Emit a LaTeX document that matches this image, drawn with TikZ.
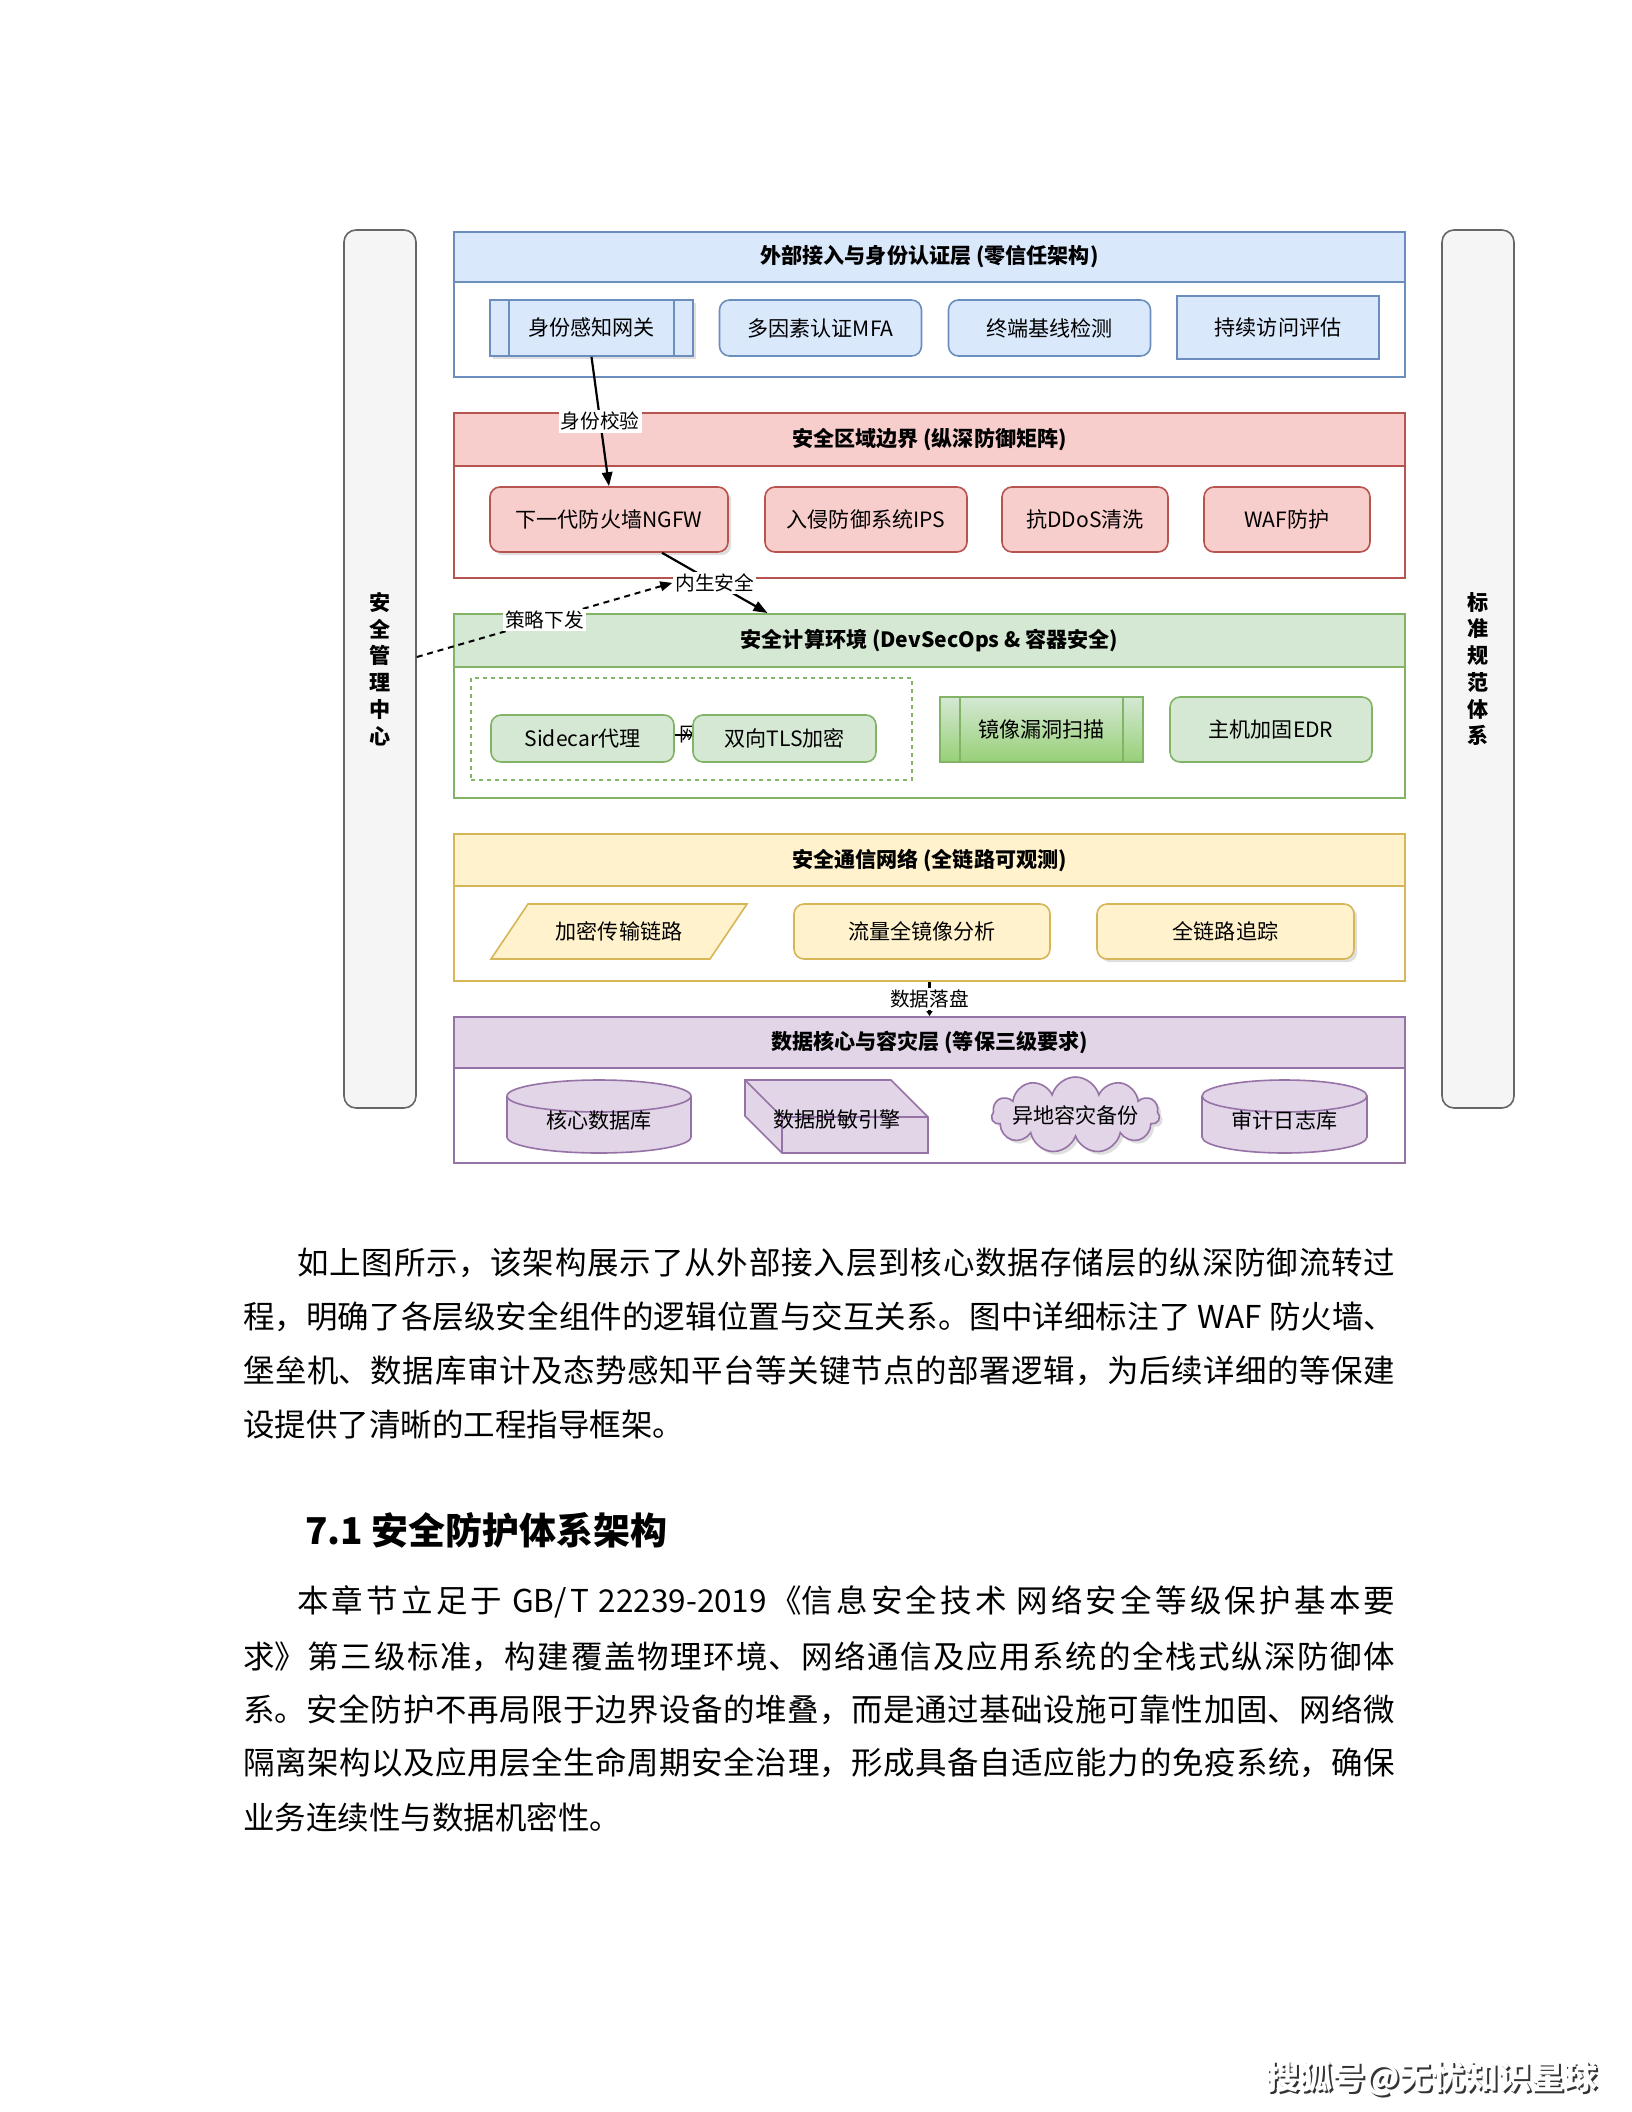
\documentclass[tikz,border=0pt]{standalone}
\usepackage{fontspec}
\setmainfont{Noto Sans CJK SC}
\usetikzlibrary{arrows.meta,shapes.symbols,shadows,positioning}
\XeTeXlinebreaklocale "zh"
\XeTeXlinebreakskip=0pt plus 3pt

\newdimen\pix \pix=0.25mm

\definecolor{bluefill}{HTML}{DAE8FC}  \definecolor{blueline}{HTML}{6C8EBF}
\definecolor{redfill}{HTML}{F8CECC}   \definecolor{redline}{HTML}{B85450}
\definecolor{greenfill}{HTML}{D5E8D4} \definecolor{greenline}{HTML}{82B366}
\definecolor{greendark}{HTML}{97D077}
\definecolor{yellowfill}{HTML}{FFF2CC} \definecolor{yellowline}{HTML}{D6B656}
\definecolor{purplefill}{HTML}{E1D5E7} \definecolor{purpleline}{HTML}{9673A6}
\definecolor{barfill}{HTML}{F5F5F5}   \definecolor{barline}{HTML}{666666}

\tikzset{
  layerbody/.style={draw, line width=0.5mm, fill=white, minimum width=951*\pix, inner sep=0pt},
  layerhead/.style={draw, line width=0.5mm, minimum width=951*\pix, inner sep=0pt,
    font=\fontsize{15pt}{18pt}\selectfont\bfseries},
  itembox/.style={draw, line width=0.4mm, rounded corners=2.5mm, inner sep=0pt,
    font=\fontsize{15pt}{18pt}\selectfont},
  plainbox/.style={draw, line width=0.4mm, inner sep=0pt, font=\fontsize{15pt}{18pt}\selectfont},
  itemtext/.style={inner sep=0pt, font=\fontsize{15pt}{18pt}\selectfont},
  edgelabel/.style={fill=white, inner sep=0.5mm, font=\fontsize{14pt}{16pt}\selectfont},
  sidebar/.style={draw=barline, fill=barfill, line width=0.4mm, rounded corners=3mm,
    minimum width=72*\pix, minimum height=878*\pix, align=center,
    font=\fontsize{15pt}{19pt}\selectfont\bfseries},
  flow/.style={line width=0.55mm, -{Triangle[length=3.5mm, width=2.6mm]}},
  softshadow/.style={drop shadow={opacity=0.25, shadow xshift=0.8mm, shadow yshift=-0.8mm}},
  bodyline/.style={anchor=west, inner sep=0pt, font=\fontsize{22.4pt}{26pt}\selectfont},
  bodyjust/.style={bodyline, text width=#1, align=justify},
}

\begin{document}
\begin{tikzpicture}[x=0.25mm, y=-0.25mm]
  \useasboundingbox (0,0) rectangle (1632,2112);
  \fill[white] (0,0) rectangle (1632,2112);

  % Side bars
  \node[sidebar] (mgmt) at (380,669) {安\\全\\管\\理\\中\\心};
  \node[sidebar] (std) at (1478,669) {标\\准\\规\\范\\体\\系};

  % Layer 1: access
  \node[layerbody, draw=blueline, minimum height=145*\pix] (access) at (929.5,304.5) {};
  \node[layerhead, draw=blueline, fill=bluefill, minimum height=50*\pix] (accesshead) at (929.5,257) {外部接入与身份认证层 (零信任架构)};
  \node[plainbox, draw=blueline, fill=bluefill, minimum width=203*\pix, minimum height=56*\pix, softshadow] (gate) at (591.5,328) {身份感知网关};
  \draw[blueline, line width=0.4mm] ([xshift=20*\pix]gate.north west) -- ([xshift=20*\pix]gate.south west);
  \draw[blueline, line width=0.4mm] ([xshift=-20*\pix]gate.north east) -- ([xshift=-20*\pix]gate.south east);
  \node[itembox, draw=blueline, fill=bluefill, minimum width=202*\pix, minimum height=56*\pix] (mfa) at (820.5,328) {多因素认证MFA};
  \node[itembox, draw=blueline, fill=bluefill, minimum width=202*\pix, minimum height=56*\pix] (baseline) at (1049.5,328) {终端基线检测};
  \node[plainbox, draw=blueline, fill=bluefill, minimum width=202*\pix, minimum height=63*\pix] (assess) at (1278,327.5) {持续访问评估};

  % Layer 2: boundary
  \node[layerbody, draw=redline, minimum height=165*\pix] (border) at (929.5,495.5) {};
  \node[layerhead, draw=redline, fill=redfill, minimum height=53*\pix] (borderhead) at (929.5,439.5) {安全区域边界 (纵深防御矩阵)};
  \node[itembox, draw=redline, fill=redfill, minimum width=238*\pix, minimum height=65*\pix, softshadow] (ngfw) at (609,519.5) {下一代防火墙NGFW};
  \node[itembox, draw=redline, fill=redfill, minimum width=202*\pix, minimum height=65*\pix] (ips) at (866,519.5) {入侵防御系统IPS};
  \node[itembox, draw=redline, fill=redfill, minimum width=166*\pix, minimum height=65*\pix] (ddos) at (1085,519.5) {抗DDoS清洗};
  \node[itembox, draw=redline, fill=redfill, minimum width=166*\pix, minimum height=65*\pix] (waf) at (1287,519.5) {WAF防护};

  % Layer 3: compute
  \node[layerbody, draw=greenline, minimum height=184*\pix] (compute) at (929.5,706) {};
  \node[layerhead, draw=greenline, fill=greenfill, minimum height=53*\pix] (computehead) at (929.5,640.5) {安全计算环境 (DevSecOps \& 容器安全)};
  \node[draw=greenline, line width=0.4mm, dash pattern=on 1mm off 1mm, minimum width=441*\pix, minimum height=102*\pix] (mesh) at (691.5,729) {};
  \node[itembox, draw=greenline, fill=greenfill, minimum width=183*\pix, minimum height=47*\pix] (sidecar) at (582.5,738.5) {Sidecar代理};
  \coordinate (tlsedge) at (693,735);
  \draw[line width=0.3mm] (sidecar.east |- tlsedge) -- (tlsedge)
    node[pos=0.2, anchor=west, inner sep=0pt, font=\fontsize{14pt}{16pt}\selectfont] (meshnote) {网};
  \node[itembox, draw=greenline, fill=greenfill, minimum width=183*\pix, minimum height=47*\pix] (tls) at (784.5,738.5) {双向TLS加密};
  \node[plainbox, draw=greenline, top color=greenfill, bottom color=greendark, minimum width=203*\pix, minimum height=65*\pix] (scan) at (1041.5,729.5) {镜像漏洞扫描};
  \draw[greenline, line width=0.4mm] ([xshift=21*\pix]scan.north west) -- ([xshift=21*\pix]scan.south west);
  \draw[greenline, line width=0.4mm] ([xshift=-21*\pix]scan.north east) -- ([xshift=-21*\pix]scan.south east);
  \node[itembox, draw=greenline, fill=greenfill, minimum width=202*\pix, minimum height=65*\pix] (edr) at (1271,729.5) {主机加固EDR};

  % Layer 4: communication
  \node[layerbody, draw=yellowline, minimum height=147*\pix] (comm) at (929.5,907.5) {};
  \node[layerhead, draw=yellowline, fill=yellowfill, minimum height=52*\pix] (commhead) at (929.5,860) {安全通信网络 (全链路可观测)};
  \draw[yellowline, fill=yellowfill, line width=0.4mm] (491,959) -- (528,904) -- (747,904) -- (710,959) -- cycle;
  \node[itemtext] (link) at (619,931.5) {加密传输链路};
  \node[itembox, draw=yellowline, fill=yellowfill, minimum width=256*\pix, minimum height=55*\pix] (mirror) at (922,931.5) {流量全镜像分析};
  \node[itembox, draw=yellowline, fill=yellowfill, minimum width=257*\pix, minimum height=55*\pix, softshadow] (trace) at (1225.5,931.5) {全链路追踪};

  % Layer 5: data core
  \node[layerbody, draw=purpleline, minimum height=146*\pix] (data) at (929.5,1090) {};
  \node[layerhead, draw=purpleline, fill=purplefill, minimum height=51*\pix] (datahead) at (929.5,1042.5) {数据核心与容灾层 (等保三级要求)};
  % cylinder
  \draw[purpleline, fill=purplefill, line width=0.4mm] (507,1096) -- (507,1137)
    arc[start angle=180, end angle=0, x radius=92, y radius=16] -- (691,1096)
    arc[start angle=0, end angle=-180, x radius=92, y radius=16] -- cycle;
  \draw[purpleline, line width=0.4mm] (507,1096) arc[start angle=180, end angle=0, x radius=92, y radius=16];
  \node[itemtext] (coredb) at (599,1120) {核心数据库};
  % cube
  \draw[purpleline, fill=purplefill, line width=0.4mm] (745,1080) -- (891,1080) -- (928,1117) -- (928,1153) -- (782,1153) -- (745,1116) -- cycle;
  \draw[purpleline, line width=0.4mm] (745,1080) -- (782,1117) -- (928,1117) (782,1117) -- (782,1153);
  \node[itemtext] (mask) at (837,1119) {数据脱敏引擎};
  % cloud
  \node[cloud, cloud puffs=11, aspect=2.3, draw=purpleline, fill=purplefill, line width=0.4mm, minimum width=168*\pix, minimum height=76*\pix, inner sep=0pt, softshadow] (backup) at (1075.5,1115) {};
  \node[itemtext] (backuptext) at (backup) {异地容灾备份};
  % cylinder
  \draw[purpleline, fill=purplefill, line width=0.4mm] (1202,1096) -- (1202,1137)
    arc[start angle=180, end angle=0, x radius=82.5, y radius=16] -- (1367,1096)
    arc[start angle=0, end angle=-180, x radius=82.5, y radius=16] -- cycle;
  \draw[purpleline, line width=0.4mm] (1202,1096) arc[start angle=180, end angle=0, x radius=82.5, y radius=16];
  \node[itemtext] (auditdb) at (1284.5,1120) {审计日志库};

  % Connectors
  \draw[flow] (gate.south) -- node[edgelabel] (verify) {身份校验} (ngfw.north);
  \draw[flow] ([xshift=53*\pix]ngfw.south) -- node[edgelabel] (innate) {内生安全} ([xshift=-162*\pix]computehead.north);
  \draw[line width=0.5mm, dash pattern=on 1.5mm off 1.2mm, -{Triangle[length=3mm, width=2.4mm]}]
    ([yshift=12*\pix]mgmt.east) -- node[edgelabel] (policy) {策略下发} (innate.west);
  \draw[line width=0.7mm, -{Triangle[length=1.2mm, width=1.5mm]}] (comm.south) -- node[edgelabel] (store) {数据落盘} (datahead.north);

  % Body text
  \node[bodyjust=1098\pix] (p1a) at (297,1263) {\parfillskip=0pt 如上图所示，该架构展示了从外部接入层到核心数据存储层的纵深防御流转过\par};
  \node[bodyjust=1152\pix] (p1b) at (243,1317) {\parfillskip=0pt 程，明确了各层级安全组件的逻辑位置与交互关系。图中详细标注了 WAF 防火墙、\par};
  \node[bodyjust=1152\pix] (p1c) at (243,1371) {\parfillskip=0pt 堡垒机、数据库审计及态势感知平台等关键节点的部署逻辑，为后续详细的等保建\par};
  \node[bodyline] (p1d) at (243,1424) {设提供了清晰的工程指导框架。};

  \node[anchor=west, inner sep=0pt, font=\fontsize{26.3pt}{30pt}\selectfont\bfseries] (sec) at (305,1530) {7.1 安全防护体系架构};

  \node[bodyjust=1098\pix] (p2a) at (297,1602) {\parfillskip=0pt 本章节立足于 GB/T 22239-2019《信息安全技术 网络安全等级保护基本要\par};
  \node[bodyjust=1152\pix] (p2b) at (243,1657) {\parfillskip=0pt 求》第三级标准，构建覆盖物理环境、网络通信及应用系统的全栈式纵深防御体\par};
  \node[bodyjust=1152\pix] (p2c) at (243,1710) {\parfillskip=0pt 系。安全防护不再局限于边界设备的堆叠，而是通过基础设施可靠性加固、网络微\par};
  \node[bodyjust=1152\pix] (p2d) at (243,1763) {\parfillskip=0pt 隔离架构以及应用层全生命周期安全治理，形成具备自适应能力的免疫系统，确保\par};
  \node[bodyline] (p2e) at (243,1817) {业务连续性与数据机密性。};

  % Watermark
  \node[font=\fontsize{23.5pt}{26pt}\selectfont\bfseries, text=black!80] (sohushade) at (1434,2080) {搜狐号@无忧知识星球};
  \node[font=\fontsize{23.5pt}{26pt}\selectfont\bfseries, text=white] (sohu) at (1432,2078) {搜狐号@无忧知识星球};
\end{tikzpicture}
\end{document}
